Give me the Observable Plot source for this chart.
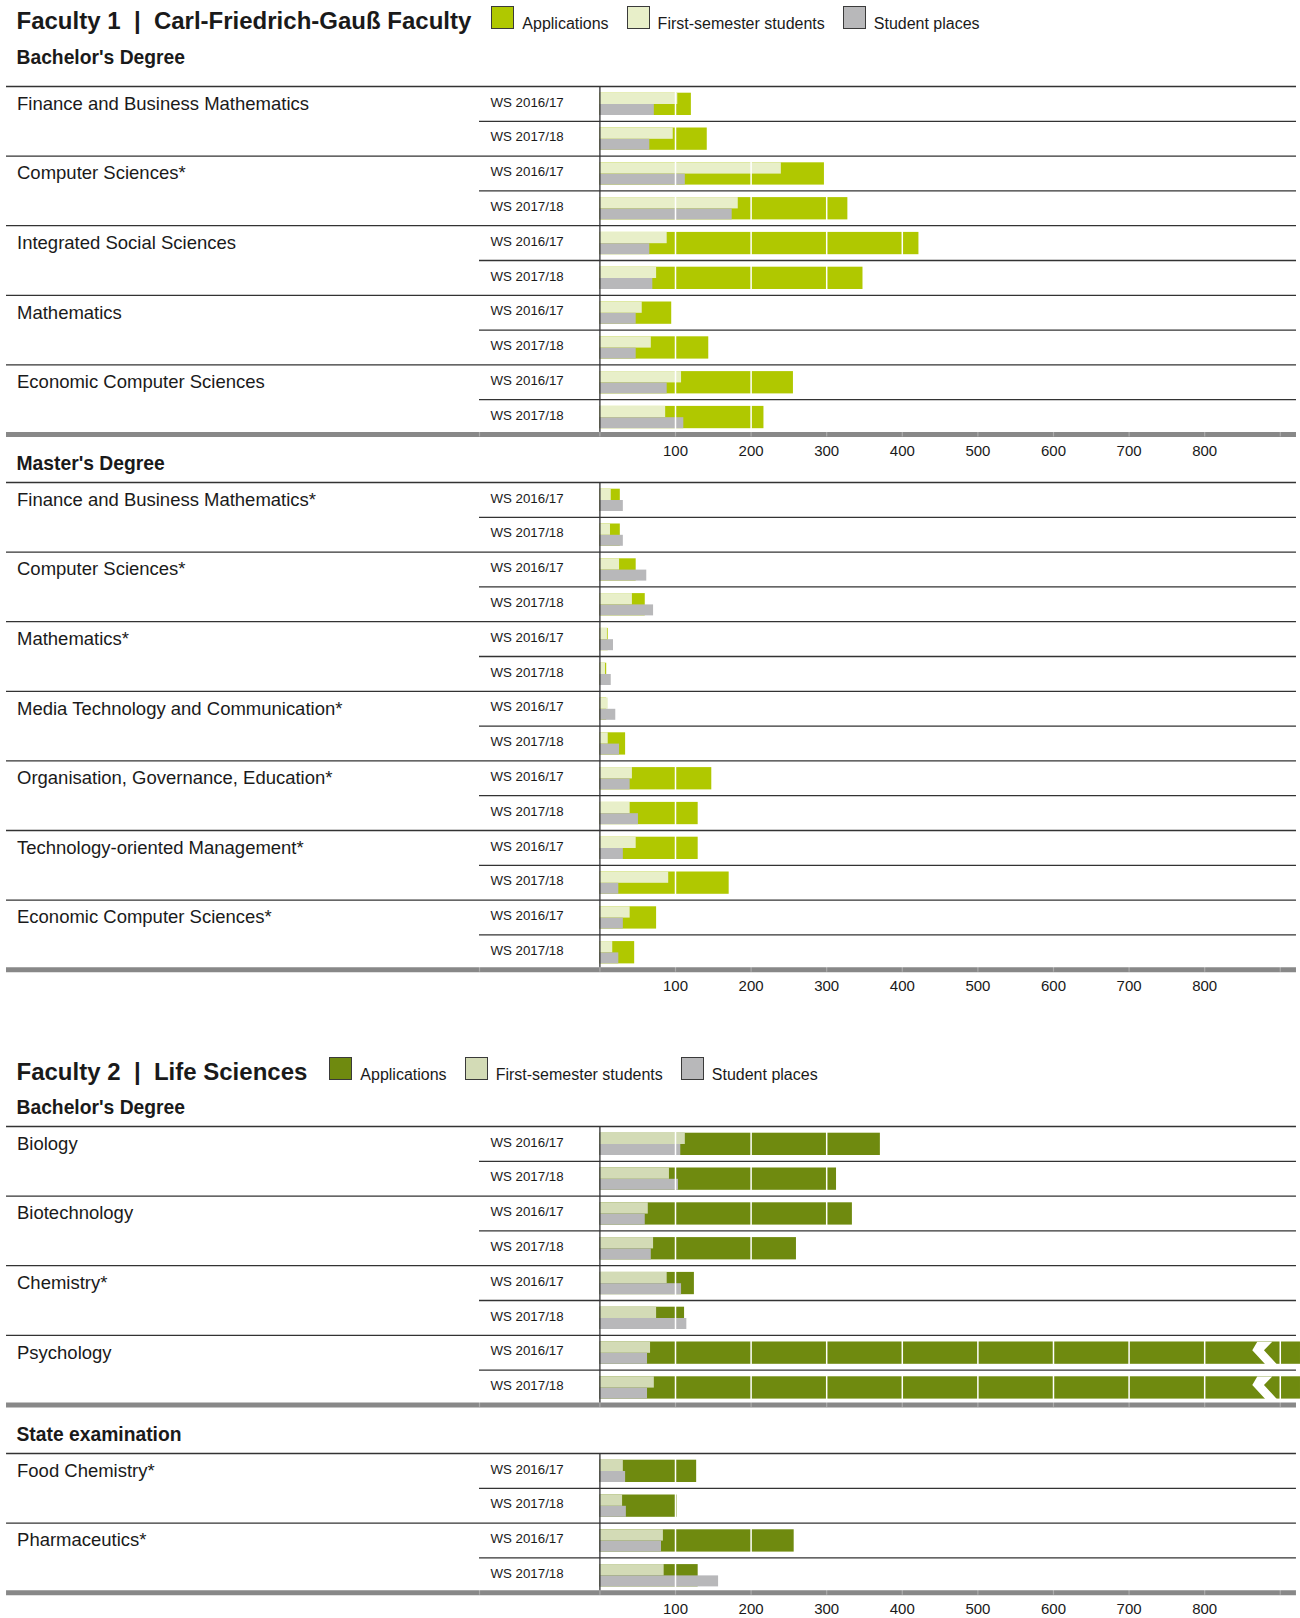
<!DOCTYPE html>
<html><head><meta charset="utf-8">
<script src="https://cdn.jsdelivr.net/npm/d3@7"></script>
<script src="https://cdn.jsdelivr.net/npm/@observablehq/plot@0.6"></script>
<style>
html,body{margin:0;padding:0;background:#fff;overflow:hidden;}
#root{position:relative;width:1300px;height:1618px;font-family:"Liberation Sans",Arial,sans-serif;color:#1a1a1a;}
.titlerow{position:absolute;left:16.5px;height:30px;display:flex;align-items:baseline;white-space:pre;}
.title{font-size:24px;font-weight:bold;line-height:30px;}
.swatch{display:inline-block;width:21px;height:21px;border:1px solid #3a3a3a;}
.ltext{font-size:16px;line-height:30px;margin-left:8px;}
.sechead{position:absolute;left:16.5px;font-size:19.3px;font-weight:bold;line-height:22px;white-space:pre;}
.plotbox{position:absolute;left:0;}
</style>
</head><body><div id="root"></div>
<script>
// ---------- data ----------
const terms = ["WS 2016/17", "WS 2017/18"];
const seriesNames = ["Applications", "First-semester students", "Student places"];
const axisTicks = [100, 200, 300, 400, 500, 600, 700, 800];
const gridTicks = [100, 200, 300, 400, 500, 600, 700, 800, 900];

// Faculty 1 | Carl-Friedrich-Gauß Faculty — Bachelor's Degree
const f1BachelorPrograms = ["Finance and Business Mathematics", "Computer Sciences*", "Integrated Social Sciences", "Mathematics", "Economic Computer Sciences"];
const f1BachelorApplications = [121, 142, 297, 328, 422, 348, 95, 144, 256, 217];
const f1BachelorFirstSemester = [103, 97, 240, 183, 89, 75, 56, 68, 108, 87];
const f1BachelorPlaces = [72, 66, 113, 175, 66, 70, 48, 48, 89, 111];

// Faculty 1 — Master's Degree
const f1MasterPrograms = ["Finance and Business Mathematics*", "Computer Sciences*", "Mathematics*", "Media Technology and Communication*", "Organisation, Governance, Education*", "Technology-oriented Management*", "Economic Computer Sciences*"];
const f1MasterApplications = [27, 27, 48, 60, 11, 9, 9, 34, 148, 130, 130, 171, 75, 46];
const f1MasterFirstSemester = [15, 14, 26, 43, 10, 7.5, 11, 11, 43, 40, 48, 91, 40, 17];
const f1MasterPlaces = [31, 31, 62, 71, 18, 15, 21, 26, 40, 51, 31, 25, 31, 25];

// Faculty 2 | Life Sciences — Bachelor's Degree
const f2BachelorPrograms = ["Biology", "Biotechnology", "Chemistry*", "Psychology"];
const f2BachelorApplications = [371, 313, 334, 260, 125, 112, 2600, 2400];
const f2BachelorFirstSemester = [113, 92, 64, 71, 89, 75, 67, 72];
const f2BachelorPlaces = [107, 104, 60, 68, 108, 115, 63, 63];

// Faculty 2 — State examination
const f2StatePrograms = ["Food Chemistry*", "Pharmaceutics*"];
const f2StateApplications = [128, 102, 257, 130];
const f2StateFirstSemester = [31, 30, 84, 85];
const f2StatePlaces = [34, 35, 81.5, 157];

const f1Colors = ["#b0c800", "#e8efc9", "#b8b8ba"];
const f2Colors = ["#6f8a0f", "#d3dbb6", "#b8b8ba"];

// ---------- layout ----------
const rowH = 34.8, mt = 3;
const x0px = 599.4, x1px = 1300, pxPerUnit = 0.756;
const xMax = (x1px - x0px) / pxPerUnit;
const px2x = p => (p - x0px) / pxPerUnit;
const root = document.getElementById("root");

// chevron "break" symbol for bars exceeding the axis
const chevron = {
  draw(ctx, size) {
    const k = Math.sqrt(size / Math.PI) / 11;
    const pts = [[-7.7,-11.5],[7.3,-11.5],[-1,-3],[12.3,11.5],[0.7,11.5],[-12.7,-3]];
    ctx.moveTo(pts[0][0]*k, pts[0][1]*k);
    for (const [a,b] of pts.slice(1)) ctx.lineTo(a*k, b*k);
    ctx.closePath();
  }
};

function titleRow(text, colors, top, firstGap) {
  const row = document.createElement("div");
  row.className = "titlerow";
  row.style.top = top + "px";
  const t = document.createElement("span");
  t.className = "title"; t.textContent = text;
  row.appendChild(t);
  seriesNames.forEach((name, j) => {
    const sw = document.createElement("span");
    sw.className = "swatch";
    sw.style.background = colors[j];
    sw.style.marginLeft = (j === 0 ? firstGap : 18) + "px";
    row.appendChild(sw);
    const lt = document.createElement("span");
    lt.className = "ltext"; lt.textContent = name;
    row.appendChild(lt);
  });
  root.appendChild(row);
}

function header(text, centerY) {
  const d = document.createElement("div");
  d.className = "sechead"; d.textContent = text;
  d.style.top = (centerY - 11) + "px";
  root.appendChild(d);
}

function section(programs, apps, first, places, colors, ruleTop, showAxis) {
  const rows = [];
  programs.forEach((p, g) => terms.forEach((t, k) => {
    const i = g * terms.length + k;
    rows.push({program: p, term: t, i, k, apps: apps[i], first: first[i], places: places[i]});
  }));
  const n = rows.length;
  const mb = showAxis ? 26 : 8;
  const height = mt + n * rowH + mb;
  const bar = (field, insetTop, insetBottom, fill) => Plot.rect(rows, {
    x1: 0, x2: d => Math.min(d[field], xMax), y1: "i", y2: d => d.i + 1,
    insetTop, insetBottom, fill
  });
  const chart = Plot.plot({
    width: 1300, height,
    marginLeft: 6, marginRight: 4, marginTop: mt, marginBottom: mb,
    style: {fontFamily: "'Liberation Sans', Arial, sans-serif", fontSize: "15px", color: "#1a1a1a", background: "none"},
    x: {domain: [0, xMax], range: [x0px, x1px], axis: showAxis ? "bottom" : null, ticks: axisTicks, tickSize: 0, tickPadding: 11, tickFormat: d => String(d), label: null},
    y: {domain: [0, n], range: [mt, mt + n * rowH], axis: null},
    marks: [
      bar("apps", 6.7, 5.8, colors[0]),
      bar("first", 6.7, 16.8, colors[1]),
      bar("places", 18, 5.8, colors[2]),
      Plot.ruleX(gridTicks, {y1: 0, y2: n, stroke: "white", strokeWidth: 1.5}),
      Plot.dot(rows.filter(d => d.apps > xMax), {x: px2x(1264.5), y: d => d.i + 0.5, dy: 0.5, r: 11, symbol: chevron, fill: "white"}),
      Plot.ruleY(d3.range(0, n, 2), {stroke: "#333", strokeWidth: 1.3}),
      Plot.ruleY(d3.range(1, n, 2), {x1: px2x(479), x2: px2x(1296), stroke: "#333", strokeWidth: 1.3}),
      Plot.ruleX([0], {y1: 0, y2: n, stroke: "#333", strokeWidth: 1.3}),
      Plot.ruleY([n], {stroke: "#888", strokeWidth: 5}),
      Plot.ruleX([px2x(479), 0, ...gridTicks], {y1: n, y2: n, insetTop: -2.5, insetBottom: -2.5, stroke: "white", strokeOpacity: 0.3, strokeWidth: 1.2}),
      Plot.text(rows.filter(d => d.k === 0), {x: 0, y: d => d.i + 0.5, text: "program", textAnchor: "start", dx: 16.5 - x0px, fontSize: 18.5, fill: "#1a1a1a"}),
      Plot.text(rows, {x: 0, y: d => d.i + 0.5, text: "term", textAnchor: "start", dx: 490 - x0px, dy: -1.5, fontSize: 13.3, fill: "#1a1a1a"})
    ]
  });
  const box = document.createElement("div");
  box.className = "plotbox";
  box.style.top = (ruleTop - mt) + "px";
  box.appendChild(chart);
  root.appendChild(box);
}

section(f1BachelorPrograms, f1BachelorApplications, f1BachelorFirstSemester, f1BachelorPlaces, f1Colors, 85.6, true);
section(f1MasterPrograms, f1MasterApplications, f1MasterFirstSemester, f1MasterPlaces, f1Colors, 481.8, true);
section(f2BachelorPrograms, f2BachelorApplications, f2BachelorFirstSemester, f2BachelorPlaces, f2Colors, 1125.6, false);
section(f2StatePrograms, f2StateApplications, f2StateFirstSemester, f2StatePlaces, f2Colors, 1452.6, true);

titleRow("Faculty 1  |  Carl-Friedrich-Gauß Faculty", f1Colors, 5.7, 20);
header("Bachelor's Degree", 58);
header("Master's Degree", 464.3);
titleRow("Faculty 2  |  Life Sciences", f2Colors, 1056.7, 22);
header("Bachelor's Degree", 1108);
header("State examination", 1435);
</script>
</body></html>
